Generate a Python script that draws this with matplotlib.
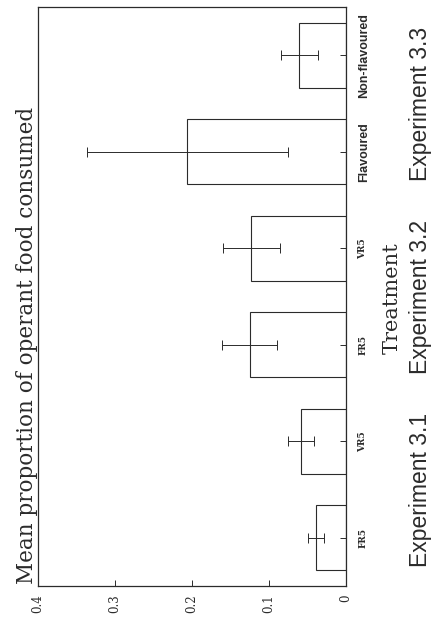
import numpy as np
import matplotlib
matplotlib.use("Agg")
import matplotlib.pyplot as plt
from matplotlib.transforms import blended_transform_factory

# mean proportion of operant food eaten, with the spread shown by the error bars
treatments = ["FR5", "VR5", "FR5", "VR5", "Flavoured", "Non-flavoured"]
means = [0.039, 0.058, 0.125, 0.123, 0.206, 0.061]
errors = [0.011, 0.017, 0.036, 0.037, 0.131, 0.024]
experiments = ["Experiment 3.1", "Experiment 3.2", "Experiment 3.3"]
value_ticks = [0, 0.1, 0.2, 0.3, 0.4]
value_labels = ["0", "0.1", "0.2", "0.3", "0.4"]

ink = "#2b2b2b"
serif = ["DejaVu Serif"]
sans = ["Liberation Sans", "DejaVu Sans"]

fig = plt.figure(figsize=(4.34, 6.24), dpi=100)
fig.patch.set_facecolor("white")
ax = fig.add_axes([38 / 434, 1 - 586 / 624, 308 / 434, 579 / 624])

# the page is turned on its side: bars grow leftwards from zero on the right
pos = np.arange(len(treatments))
ax.barh(pos, means, height=0.67, color="white", edgecolor=ink, linewidth=0.8)
ax.errorbar(means, pos, xerr=errors, fmt="none", ecolor=ink, elinewidth=0.7,
            capsize=3.5, capthick=0.7)

ax.set_xlim(0.4, 0)
ax.set_ylim(-0.5, len(treatments) - 0.5)

for sp in ax.spines.values():
    sp.set_color(ink)
    sp.set_linewidth(0.9)

ax.set_xticks(value_ticks)
ax.set_xticklabels(value_labels, rotation=90, fontfamily=serif, fontsize=8.5, color=ink)
ax.tick_params(axis="x", direction="in", length=4, width=0.7, color=ink, pad=6)

ax.yaxis.tick_right()
ax.set_yticks(pos)
ax.set_yticklabels(treatments, rotation=90, va="center", color=ink)
ax.tick_params(axis="y", direction="in", length=4, width=0.7, color=ink, pad=9)
for lab in ax.get_yticklabels():
    if lab.get_text() in ("FR5", "VR5"):
        lab.set_fontfamily(serif)
        lab.set_fontweight("bold")
        lab.set_fontsize(6.5)
    else:
        lab.set_fontfamily(sans)
        lab.set_fontweight("bold")
        lab.set_fontsize(9)

fig.text(27 / 434, 1 - 584 / 624, "Mean proportion of operant food consumed",
         rotation=90, ha="center", va="bottom", fontfamily=serif, fontsize=15.5,
         color=ink)
fig.text(392 / 434, 1 - 298 / 624, "Treatment", rotation=90, ha="center",
         va="center", fontfamily=serif, fontsize=15, color=ink)

# experiment names sit under each pair of treatments
tr = blended_transform_factory(fig.transFigure, ax.transData)
for i, name in enumerate(experiments):
    ax.text(420 / 434, 2 * i + 0.5, name, transform=tr, rotation=90,
            ha="center", va="center", fontfamily=sans, fontsize=16.5, color=ink,
            clip_on=False)

fig.savefig("out.png", dpi=100)
